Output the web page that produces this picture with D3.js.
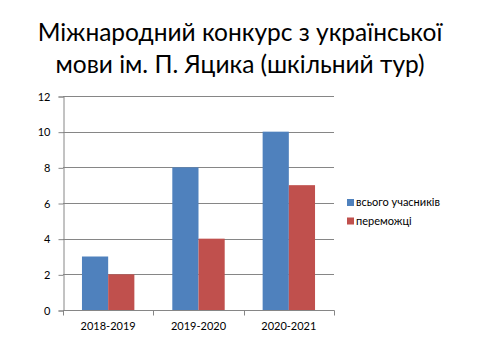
<!DOCTYPE html>
<html>
<head>
<meta charset="utf-8">
<script src="https://cdn.jsdelivr.net/npm/d3@7"></script>
<style>
  body { margin: 0; background: #fff; }
  svg text { font-family: Lato, "Open Sans", sans-serif; }
</style>
</head>
<body>
<div class="chart"></div>
<script>
var categories = ["2018-2019", "2019-2020", "2020-2021"];
var seriesNames = ["всього учасників", "переможці"];
var totalValues = [3, 8, 10];
var winnerValues = [2, 4, 7];
var yTicks = [0, 2, 4, 6, 8, 10, 12];
var titleLines = ["Міжнародний конкурс з української", "мови ім. П. Яцика (шкільний тур)"];
var colors = ["#4F81BD", "#C0504D"];

var svg = d3.select(".chart")
  .append("svg")
    .attr("width", 480)
    .attr("height", 360);

// Title
svg.selectAll(".title")
  .data(titleLines)
  .enter()
  .append("text")
  .attr("class", "title")
  .attr("x", 240)
  .attr("y", function(d, i) { return 41 + i * 32; })
  .attr("text-anchor", "middle")
  .style("font-size", "24.5px")
  .style("fill", "#000")
  .text(function(d) { return d; });

var plot = { left: 63, right: 334, top: 96, bottom: 310 };

var x = d3.scaleBand()
  .domain(categories)
  .range([plot.left, plot.right])
  .paddingInner(0.42)
  .paddingOuter(0.21);

var x1 = d3.scaleBand()
  .domain([0, 1])
  .range([0, x.bandwidth()]);

var y = d3.scaleLinear()
  .domain([0, 12])
  .range([plot.bottom, plot.top]);

// grid lines
svg.append("g")
  .selectAll("line")
  .data(yTicks.slice(1))
  .enter()
  .append("line")
  .attr("x1", plot.left)
  .attr("x2", plot.right)
  .attr("y1", function(d) { return Math.round(y(d)) + 0.5; })
  .attr("y2", function(d) { return Math.round(y(d)) + 0.5; })
  .style("stroke", "#868686")
  .style("stroke-width", 1);

// Y axis
var gY = svg.append("g")
  .attr("transform", "translate(" + (plot.left + 0.5) + ",0.5)")
  .call(d3.axisLeft(y).tickValues(yTicks).tickSize(5).tickPadding(8));
gY.select(".domain").attr("stroke", "#868686");
gY.selectAll(".tick line").attr("stroke", "#868686");
gY.selectAll("text").style("font-size", "11px").style("fill", "#000").style("font-family", "Lato, sans-serif");

// bars
var rows = categories.map(function(c, i) { return { cat: c, vals: [totalValues[i], winnerValues[i]] }; });

var groups = svg.selectAll(".grp")
  .data(rows)
  .enter()
  .append("g")
  .attr("class", "grp")
  .attr("transform", function(d) { return "translate(" + x(d.cat) + ",0)"; });

groups.selectAll("rect")
  .data(function(d) { return d.vals; })
  .enter()
  .append("rect")
  .attr("x", function(d, i) { return x1(i); })
  .attr("y", function(d) { return y(d); })
  .attr("width", x1.bandwidth())
  .attr("height", function(d) { return plot.bottom - y(d); })
  .attr("fill", function(d, i) { return colors[i]; });

// X axis
var xEdge = d3.scaleLinear().domain([0, categories.length]).range([plot.left, plot.right]);
var gX = svg.append("g")
  .attr("transform", "translate(0," + (plot.bottom + 0.5) + ")");
gX.append("line")
  .attr("x1", plot.left).attr("x2", plot.right + 0.5)
  .attr("stroke", "#868686");
gX.selectAll(".xt")
  .data(d3.range(categories.length + 1))
  .enter()
  .append("line")
  .attr("class", "xt")
  .attr("x1", function(d) { return Math.round(xEdge(d)) + 0.5; })
  .attr("x2", function(d) { return Math.round(xEdge(d)) + 0.5; })
  .attr("y1", 0).attr("y2", 5)
  .attr("stroke", "#868686");
gX.selectAll(".xl")
  .data(categories)
  .enter()
  .append("text")
  .attr("class", "xl")
  .attr("x", function(d) { return x(d) + x.bandwidth() / 2; })
  .attr("y", 19)
  .attr("text-anchor", "middle")
  .style("font-size", "11px")
  .text(function(d) { return d; });

// Legend
var legend = svg.selectAll(".legend")
  .data(seriesNames)
  .enter()
  .append("g")
  .attr("class", "legend")
  .attr("transform", function(d, i) { return "translate(347," + (199 + i * 18.5) + ")"; });
legend.append("rect")
  .attr("width", 7).attr("height", 7)
  .attr("fill", function(d, i) { return colors[i]; });
legend.append("text")
  .attr("x", 9)
  .attr("y", 7)
  .style("font-size", "11px")
  .text(function(d) { return d; });
</script>
</body>
</html>
